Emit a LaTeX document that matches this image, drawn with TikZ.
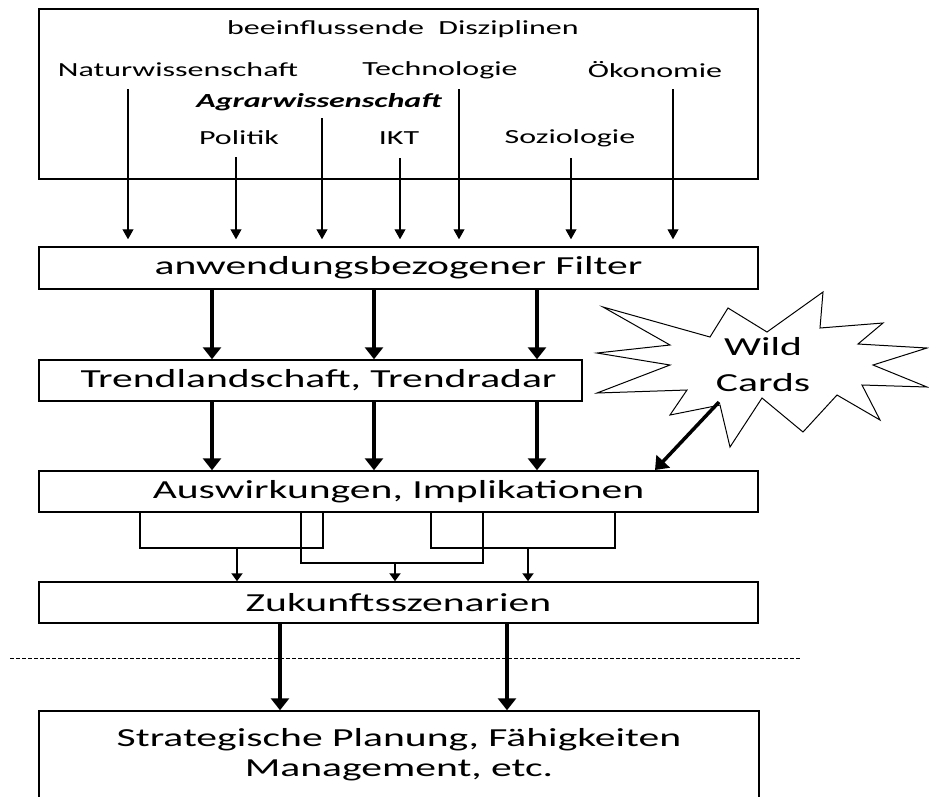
\documentclass[tikz,border=0pt]{standalone}
\usepackage{fontspec}
\usepackage{tikz}
\usetikzlibrary{arrows.meta,positioning,calc}
\newfontfamily\calib[FakeStretch=1.6]{Carlito}

\tikzset{
	box/.style={draw, line width=1.5pt, inner sep=0pt, align=center, font=\calib\fontsize{26}{30}\selectfont},
	disc/.style={inner sep=0pt, font=\calib\fontsize{20}{24}\selectfont},
	feed/.style={line width=1.1pt, shorten >=7pt, -{Triangle[width=11pt,length=10pt]}},
	flow/.style={line width=4pt, -{Triangle[width=18pt,length=12pt]}},
	link/.style={line width=2pt},
	merge/.style={line width=2pt, -{Triangle[width=11pt,length=8pt]}},
}

\begin{document}
\begin{tikzpicture}[x=1pt,y=-1pt]
	\useasboundingbox (0,0) rectangle (929,796);

	% einflussgebende Disziplinen
	\node[box, minimum width=719pt, minimum height=170pt] (disz) at (398.5,94) {};
	\node[disc] (head) at (403,29) {beeinflussende\ \ Disziplinen};
	\node[disc] (natur) at (178,70) {Naturwissenschaft};
	\node[disc] (tech) at (440,70) {Technologie};
	\node[disc] (oeko) at (655,70) {Ökonomie};
	\node[disc, font=\calib\bfseries\itshape\fontsize{20}{24}\selectfont] (agrar) at (319,102) {Agrarwissenschaft};
	\node[disc] (pol) at (239,138) {Politik};
	\node[disc] (ikt) at (399,138) {IKT};
	\node[disc] (soz) at (570,138) {Soziologie};

	\coordinate (s1) at (128,89);
	\coordinate (s2) at (236,157);
	\coordinate (s3) at (322,118);
	\coordinate (s4) at (400,158);
	\coordinate (s5) at (459,89);
	\coordinate (s6) at (571,158);
	\coordinate (s7) at (673,89);

	% Stufen
	\node[box, minimum width=719pt, minimum height=42pt] (filter) at (398.5,268) {anwendungsbezogener Filter};
	\node[box, minimum width=543pt, minimum height=41pt] (trend) at (310.5,380.5) {\hspace{16pt}Trendlandschaft, Trendradar};
	\node[box, minimum width=719pt, minimum height=41pt] (ausw) at (398.5,491.5) {Auswirkungen, Implikationen};
	\node[box, minimum width=719pt, minimum height=41pt] (zuk) at (398.5,602.5) {Zukunftsszenarien};
	\node[box, minimum width=720pt, minimum height=88pt] (plan) at (399,755) {Strategische Planung, Fähigkeiten\\Management, etc.};

	\foreach \s in {s1,s2,s3,s4,s5,s6,s7}
		\draw[feed] (\s) -- (\s |- filter.north);

	\foreach \x in {212,374,537} {
		\draw[flow] (filter.south -| \x,0) -- (trend.north -| \x,0);
		\draw[flow] (trend.south -| \x,0) -- (ausw.north -| \x,0);
	}

	% Wild Cards
	\draw[line width=1pt, fill=white] (603,307) -- (710,337) -- (728,308) -- (767,332) -- (823,292)
		-- (820,328) -- (883,323) -- (858,344) -- (927,348) -- (873,365) -- (927,387)
		-- (862,385) -- (880,420) -- (837,395) -- (803,432) -- (762,398) -- (730,447)
		-- (720,405) -- (670,415) -- (687,390) -- (597,393) -- (670,365) -- (597,353)
		-- (670,345) -- cycle;
	\node[box, draw=none, font=\calib\fontsize{26}{36}\selectfont] (wild) at (763,365) {Wild\\Cards};
	\coordinate (wc) at (719,402);
	\coordinate (wcend) at (655,470);
	\draw[flow, line width=3.5pt] (wc) -- (wcend);

	% Zusammenfuehrung
	\draw[link] (ausw.south -| 140,0) |- (323,548) -- (ausw.south -| 323,0);
	\draw[link] (ausw.south -| 301,0) |- (483,563) -- (ausw.south -| 483,0);
	\draw[link] (ausw.south -| 431,0) |- (615,548) -- (ausw.south -| 615,0);
	\draw[merge] (237,548) -- (zuk.north -| 237,0);
	\draw[merge] (395,563) -- (zuk.north -| 395,0);
	\draw[merge] (528,548) -- (zuk.north -| 528,0);

	\draw[line width=1pt, dash pattern=on 4pt off 2pt] (10,658) -- (800,658);

	\foreach \x in {280,507}
		\draw[flow, line width=4.5pt] (zuk.south -| \x,0) -- (plan.north -| \x,0);
\end{tikzpicture}
\end{document}
